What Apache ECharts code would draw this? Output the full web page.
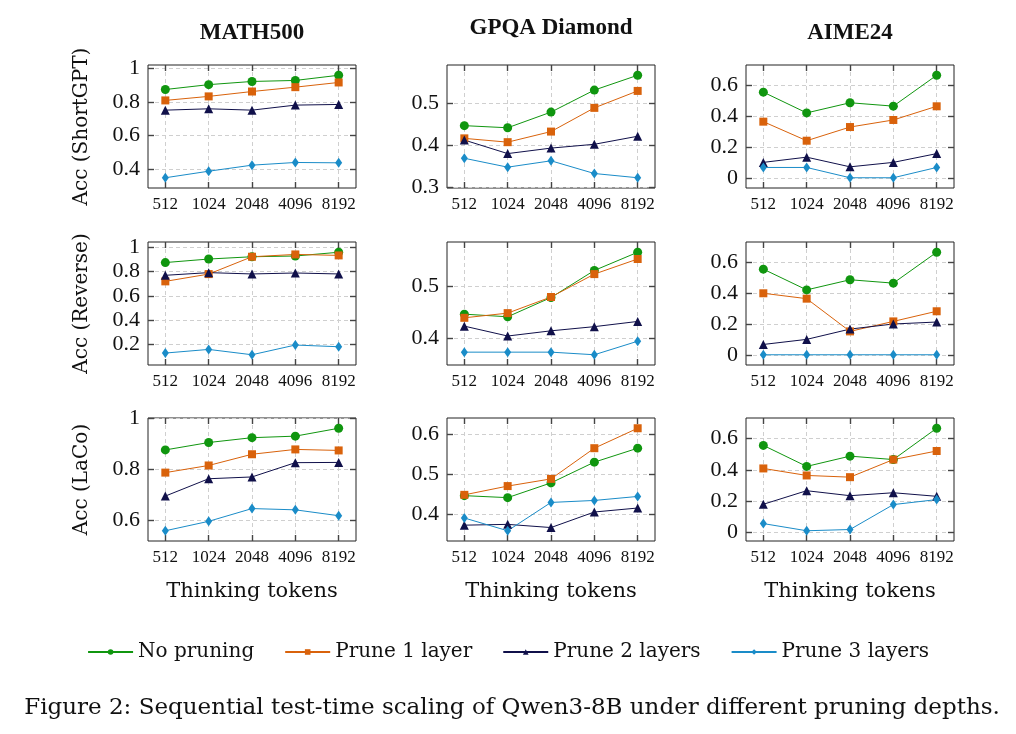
<!DOCTYPE html>
<html lang="en">
<head>
    <meta charset="UTF-8">
    <title>Sequential test-time scaling of Qwen3-8B</title>
    <script src="https://cdn.jsdelivr.net/npm/echarts@6.0.0/dist/echarts.min.js"></script>
    <style>
        html, body, #chart {
            width: 1016px;
            height: 734px;
            padding: 0;
            margin: 0;
            background: #fff;
        }
    </style>
</head>
<body>
<div id="chart"></div>
<script>
    var tokens = ["512", "1024", "2048", "4096", "8192"];
    var benchmarks = ["MATH500", "GPQA Diamond", "AIME24"];
    var methods = ["ShortGPT", "Reverse", "LaCo"];
    var seriesNames = ["No pruning", "Prune 1 layer", "Prune 2 layers", "Prune 3 layers"];

    // baseline is the same in every row
    var noPruningMath = [0.875, 0.904, 0.923, 0.929, 0.960];
    var noPruningGpqa = [0.446, 0.441, 0.478, 0.530, 0.565];
    var noPruningAime = [0.557, 0.422, 0.488, 0.466, 0.667];

    // ShortGPT: prune 1 / 2 / 3 layers
    var shortgptMath = [[0.810, 0.834, 0.863, 0.889, 0.917], [0.752, 0.760, 0.752, 0.782, 0.786], [0.349, 0.388, 0.424, 0.440, 0.438]];
    var shortgptGpqa = [[0.416, 0.407, 0.432, 0.488, 0.528], [0.412, 0.380, 0.393, 0.402, 0.421], [0.369, 0.348, 0.363, 0.333, 0.323]];
    var shortgptAime = [[0.365, 0.241, 0.330, 0.376, 0.465], [0.100, 0.134, 0.071, 0.100, 0.157], [0.067, 0.067, 0.000, 0.000, 0.067]];

    // Reverse
    var reverseMath = [[0.720, 0.780, 0.923, 0.942, 0.934], [0.770, 0.792, 0.781, 0.789, 0.781], [0.129, 0.159, 0.115, 0.195, 0.181]];
    var reverseGpqa = [[0.439, 0.448, 0.479, 0.523, 0.552], [0.423, 0.404, 0.414, 0.422, 0.432], [0.373, 0.373, 0.373, 0.368, 0.394]];
    var reverseAime = [[0.400, 0.365, 0.152, 0.217, 0.283], [0.067, 0.100, 0.167, 0.200, 0.213], [0.000, 0.000, 0.000, 0.000, 0.000]];

    // LaCo
    var lacoMath = [[0.786, 0.814, 0.858, 0.877, 0.873], [0.694, 0.762, 0.769, 0.825, 0.826], [0.558, 0.595, 0.645, 0.640, 0.617]];
    var lacoGpqa = [[0.448, 0.470, 0.488, 0.565, 0.615], [0.372, 0.374, 0.366, 0.405, 0.415], [0.390, 0.358, 0.429, 0.434, 0.444]];
    var lacoAime = [[0.409, 0.364, 0.353, 0.466, 0.521], [0.179, 0.266, 0.234, 0.253, 0.230], [0.055, 0.009, 0.017, 0.177, 0.209]];

    // y tick labels per panel (row = method, col = benchmark)
    var yTicksShortgpt = [[0.4, 0.6, 0.8, 1], [0.3, 0.4, 0.5], [0, 0.2, 0.4, 0.6]];
    var yTicksReverse = [[0.2, 0.4, 0.6, 0.8, 1], [0.4, 0.5], [0, 0.2, 0.4, 0.6]];
    var yTicksLaco = [[0.6, 0.8, 1], [0.4, 0.5, 0.6], [0, 0.2, 0.4, 0.6]];

    var baselines = [noPruningMath, noPruningGpqa, noPruningAime];
    var pruned = [
        [shortgptMath, shortgptGpqa, shortgptAime],
        [reverseMath, reverseGpqa, reverseAime],
        [lacoMath, lacoGpqa, lacoAime]
    ];
    var yTicks = [yTicksShortgpt, yTicksReverse, yTicksLaco];

    var colors = ["#10960f", "#d9620b", "#10104a", "#1a8cc8"];
    var symbols = ["circle", "rect", "triangle", "diamond"];
    var symbolSizes = [9, 8, 9, [7, 10]];

    var colLeft = [148, 447, 746];
    var rowTop = [65, 242, 418];
    var boxW = 208, boxH = 123;
    var textFont = "DejaVu Serif";
    var numFont = "Liberation Serif";
    var xIdx = [0, 1, 2, 3, 4];

    var grids = [], xAxes = [], yAxes = [], series = [], graphics = [];
    var gridLine = {show: true, lineStyle: {color: "#cfcfcf", type: [4, 3], width: 1}};
    var tickStyle = {color: "#444", width: 1.4};
    var noLine = {show: false, onZero: false};

    for (var r = 0; r < 3; r++) {
        for (var c = 0; c < 3; c++) {
            var p = r * 3 + c;
            var lines = [baselines[c]].concat(pruned[r][c]);
            var all = [].concat.apply([], lines);
            var lo = Math.min.apply(null, all), hi = Math.max.apply(null, all);
            var pad = (hi - lo) * 0.1;

            grids.push({
                left: colLeft[c], top: rowTop[r], width: boxW, height: boxH,
                show: true, borderColor: "#222", borderWidth: 1, backgroundColor: "transparent",
                outerBoundsMode: "none", containLabel: false
            });

            xAxes.push({
                gridIndex: p, type: "value", position: "bottom", min: -0.4, max: 4.4,
                axisLine: noLine,
                axisTick: {show: true, inside: true, length: 6, customValues: xIdx, lineStyle: tickStyle},
                axisLabel: {
                    customValues: xIdx, margin: 8, fontSize: 17, fontFamily: numFont, color: "#111",
                    formatter: function (v) { return tokens[Math.round(v)]; }
                },
                splitLine: gridLine
            });
            xAxes.push({
                gridIndex: p, type: "value", position: "top", min: -0.4, max: 4.4,
                axisLine: noLine,
                axisTick: {show: true, inside: true, length: 6, customValues: xIdx, lineStyle: tickStyle},
                axisLabel: {show: false},
                splitLine: {show: false}
            });
            yAxes.push({
                gridIndex: p, type: "value", position: "left", min: lo - pad, max: hi + pad,
                axisLine: noLine,
                axisTick: {show: true, inside: true, length: 6, customValues: yTicks[r][c], lineStyle: tickStyle},
                axisLabel: {
                    customValues: yTicks[r][c], margin: 8, fontSize: 22, fontFamily: numFont, color: "#111",
                    formatter: function (v) { return String(+v.toFixed(1)); }
                },
                splitLine: gridLine
            });
            yAxes.push({
                gridIndex: p, type: "value", position: "right", min: lo - pad, max: hi + pad,
                axisLine: noLine,
                axisTick: {show: true, inside: true, length: 6, customValues: yTicks[r][c], lineStyle: tickStyle},
                axisLabel: {show: false},
                splitLine: {show: false}
            });

            for (var s = 0; s < 4; s++) {
                series.push({
                    name: seriesNames[s],
                    type: "line",
                    xAxisIndex: 2 * p,
                    yAxisIndex: 2 * p,
                    data: lines[s].map(function (v, i) { return [i, v]; }),
                    symbol: symbols[s],
                    symbolSize: symbolSizes[s],
                    showAllSymbol: true,
                    itemStyle: {color: colors[s], borderWidth: 0},
                    lineStyle: {color: colors[s], width: 1},
                    emphasis: {disabled: true},
                    animation: false
                });
            }
        }
    }

    // column titles, row names, x axis names, caption
    var titleY = [33, 28, 33];
    for (var c2 = 0; c2 < 3; c2++) {
        var cx = colLeft[c2] + boxW / 2;
        graphics.push({
            type: "text", x: cx, y: titleY[c2],
            style: {text: benchmarks[c2], font: "bold 23px 'Liberation Serif'", fill: "#111", align: "center", verticalAlign: "middle"}
        });
        graphics.push({
            type: "text", x: cx, y: 592,
            style: {text: "Thinking tokens", font: "21px '" + textFont + "'", fill: "#111", align: "center", verticalAlign: "middle"}
        });
    }
    for (var r2 = 0; r2 < 3; r2++) {
        graphics.push({
            type: "text", x: 82, y: rowTop[r2] + boxH / 2, rotation: Math.PI / 2,
            style: {text: "Acc (" + methods[r2] + ")", font: "20px '" + textFont + "'", fill: "#111", align: "center", verticalAlign: "middle"}
        });
    }
    graphics.push({
        type: "text", x: 512, y: 708,
        style: {
            text: "Figure 2: Sequential test-time scaling of Qwen3-8B under different pruning depths.",
            font: "23px '" + textFont + "'", fill: "#111", align: "center", verticalAlign: "middle"
        }
    });

    var chart = echarts.init(document.getElementById("chart"), null, {renderer: "canvas"});
    chart.setOption({
        backgroundColor: "#fff",
        animation: false,
        legend: {
            data: seriesNames,
            left: "center",
            top: 637,
            itemWidth: 45,
            itemHeight: 7,
            itemGap: 30,
            selectedMode: false,
            textStyle: {fontFamily: textFont, fontSize: 20, color: "#111"}
        },
        grid: grids,
        xAxis: xAxes,
        yAxis: yAxes,
        series: series,
        graphic: graphics
    });
</script>
</body>
</html>
